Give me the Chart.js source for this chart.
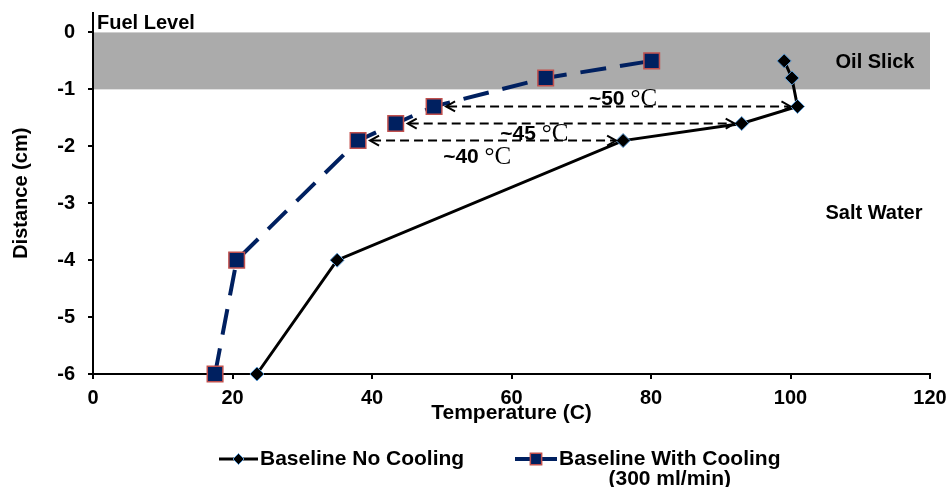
<!DOCTYPE html>
<html>
<head>
<meta charset="utf-8">
<script src="https://cdn.jsdelivr.net/npm/chart.js@4.4.1/dist/chart.umd.min.js"></script>
<style>
  html, body { margin: 0; padding: 0; background: #fff; }
  #wrap { width: 949px; height: 487px; }
</style>
</head>
<body>
<div id="wrap"><canvas id="c"></canvas></div>
<script>
// values
var noCoolTemp = [23.5, 35, 76, 93, 101, 100.2, 99.1];
var noCoolDist = [-6, -4, -1.9, -1.6, -1.3, -0.8, -0.5];
var coolTemp = [17.5, 20.6, 38, 43.4, 48.9, 64.9, 80.1];
var coolDist = [-6, -4, -1.9, -1.6, -1.3, -0.8, -0.5];
var xTicks = [0, 20, 40, 60, 80, 100, 120];
var yTicks = [0, -1, -2, -3, -4, -5, -6];
var gapDist = [-1.3, -1.6, -1.9];
var gapLabels = ['~50', '~45', '~40'];
var seriesNames = ['Baseline No Cooling', 'Baseline With Cooling'];

var FONT = '"Liberation Sans", Arial, sans-serif';
var NAVY = '#002060';

function pts(xs, ys) {
  return xs.map(function (x, i) { return { x: x, y: ys[i] }; });
}

// grey oil layer + region captions
var bandPlugin = {
  id: 'band',
  beforeDatasetsDraw: function (chart) {
    var a = chart.chartArea, y = chart.scales.y, c = chart.ctx;
    var top = y.getPixelForValue(0), bot = y.getPixelForValue(-1);
    c.save();
    c.fillStyle = '#ababab';
    c.fillRect(a.left + 1, top, a.right - a.left - 1, bot - top);
    c.fillStyle = '#000';
    c.font = 'bold 20px ' + FONT;
    c.textBaseline = 'alphabetic';
    c.textAlign = 'left';
    c.fillText('Fuel Level', a.left + 4, top - 3);
    c.textAlign = 'center';
    c.fillText('Oil Slick', 875, (top + bot) / 2 + 7);
    c.fillText('Salt Water', 874, y.getPixelForValue(-3.15) + 7);
    c.restore();
  }
};

// dashed double arrows between the two curves, with the gap labels
var labelPos = [[71.1, -1.28], [58.4, -1.89], [50.2, -2.30]];
var gapPlugin = {
  id: 'gaps',
  afterDatasetsDraw: function (chart) {
    var xs = chart.scales.x, ys = chart.scales.y, c = chart.ctx;
    function head(x, y, dir) {
      c.beginPath();
      c.moveTo(x - dir * 9, y - 5);
      c.lineTo(x, y);
      c.lineTo(x - dir * 9, y + 5);
      c.stroke();
    }
    c.save();
    c.strokeStyle = '#000';
    c.lineWidth = 2;
    gapDist.forEach(function (d, k) {
      var i = coolDist.indexOf(d), j = noCoolDist.indexOf(d);
      var py = ys.getPixelForValue(d);
      var x1 = xs.getPixelForValue(coolTemp[i]) + 12;
      var x2 = xs.getPixelForValue(noCoolTemp[j]) - 7;
      c.setLineDash([9, 5]);
      c.beginPath(); c.moveTo(x1 + 2, py); c.lineTo(x2 - 2, py); c.stroke();
      c.setLineDash([]);
      head(x1, py, -1);
      head(x2, py, 1);
      var lx = xs.getPixelForValue(labelPos[k][0]), ly = ys.getPixelForValue(labelPos[k][1]);
      c.fillStyle = '#000';
      c.textAlign = 'left';
      c.textBaseline = 'alphabetic';
      c.font = 'bold 21px ' + FONT;
      c.fillText(gapLabels[k], lx, ly);
      var w = c.measureText(gapLabels[k] + ' ').width;
      c.font = '25px "Liberation Serif", serif';
      c.fillText('\u00B0C', lx + w, ly + 1);
    });
    c.restore();
  }
};

// bottom legend (second entry wraps onto two lines)
var legendPlugin = {
  id: 'botLegend',
  afterDraw: function (chart) {
    var c = chart.ctx, ds = chart.data.datasets;
    var items = [
      { x1: 219, x2: 258, tx: 260, text: seriesNames[0], sub: null },
      { x1: 515, x2: 557, tx: 559, text: seriesNames[1], sub: '(300 ml/min)' }
    ];
    var y = 459;
    c.save();
    items.forEach(function (it, k) {
      var d = ds[k];
      c.strokeStyle = d.borderColor;
      c.lineWidth = d.borderWidth;
      c.beginPath(); c.moveTo(it.x1, y); c.lineTo(it.x2, y); c.stroke();
      c.fillStyle = d.pointBackgroundColor;
      c.strokeStyle = d.pointBorderColor;
      c.lineWidth = d.pointBorderWidth;
      Chart.helpers.drawPoint(c, {
        pointStyle: d.pointStyle, radius: k ? 8 : 5.5, borderWidth: d.pointBorderWidth
      }, (it.x1 + it.x2) / 2, y);
      c.fillStyle = '#000';
      c.font = 'bold 21px ' + FONT;
      c.textAlign = 'left';
      c.textBaseline = 'middle';
      c.fillText(it.text, it.tx, y);
      if (it.sub) {
        var w = c.measureText(it.text).width;
        c.textAlign = 'center';
        c.fillText(it.sub, it.tx + w / 2, y + 20);
      }
    });
    c.restore();
  }
};

new Chart(document.getElementById('c'), {
  type: 'scatter',
  data: {
    datasets: [{
      label: seriesNames[0],
      data: pts(noCoolTemp, noCoolDist),
      showLine: true,
      borderColor: '#000',
      borderWidth: 3,
      pointStyle: 'rectRot',
      pointRadius: 7,
      pointHoverRadius: 7,
      pointBackgroundColor: '#000',
      pointBorderColor: '#5b9bd5',
      pointBorderWidth: 1,
      clip: false
    }, {
      label: seriesNames[1],
      data: pts(coolTemp, coolDist),
      showLine: true,
      borderColor: NAVY,
      borderWidth: 4,
      borderDash: [26, 14],
      pointStyle: 'rect',
      pointRadius: 11,
      pointHoverRadius: 11,
      pointBackgroundColor: NAVY,
      pointBorderColor: '#c0504d',
      pointBorderWidth: 1.5,
      clip: false
    }]
  },
  options: {
    responsive: true,
    maintainAspectRatio: false,
    animation: false,
    layout: { padding: { top: 5, right: 19, bottom: 63, left: 0 } },
    plugins: { legend: { display: false }, tooltip: { enabled: false } },
    scales: {
      x: {
        type: 'linear', min: 0, max: 120,
        afterBuildTicks: function (s) { s.ticks = xTicks.map(function (v) { return { value: v }; }); },
        afterFit: function (s) { s.height = 50; s.paddingLeft = 0; s.paddingRight = 0; },
        grid: { drawOnChartArea: false, drawTicks: true, tickLength: 5, color: '#000', lineWidth: 2 },
        border: { display: true, color: '#000', width: 2 },
        ticks: { color: '#000', padding: 7, font: { family: FONT, size: 20, weight: 'bold' }, maxRotation: 0 },
        title: { display: true, text: 'Temperature (C)', color: '#000', padding: 0,
          font: { family: FONT, size: 21, weight: 'bold', lineHeight: 1 } }
      },
      y: {
        type: 'linear', min: -6, max: 0.35,
        afterBuildTicks: function (s) { s.ticks = yTicks.map(function (v) { return { value: v }; }); },
        afterFit: function (s) { s.width = 93; s.paddingTop = 0; s.paddingBottom = 0; },
        grid: { drawOnChartArea: false, drawTicks: true, tickLength: 5, color: '#000', lineWidth: 2 },
        border: { display: true, color: '#000', width: 2 },
        ticks: { color: '#000', padding: 13, font: { family: FONT, size: 20, weight: 'bold', lineHeight: 0.5 } },
        title: { display: true, text: 'Distance (cm)', color: '#000', padding: { top: 9, bottom: 0 },
          font: { family: FONT, size: 20, weight: 'bold' } }
      }
    }
  },
  plugins: [bandPlugin, gapPlugin, legendPlugin]
});
</script>
</body>
</html>
